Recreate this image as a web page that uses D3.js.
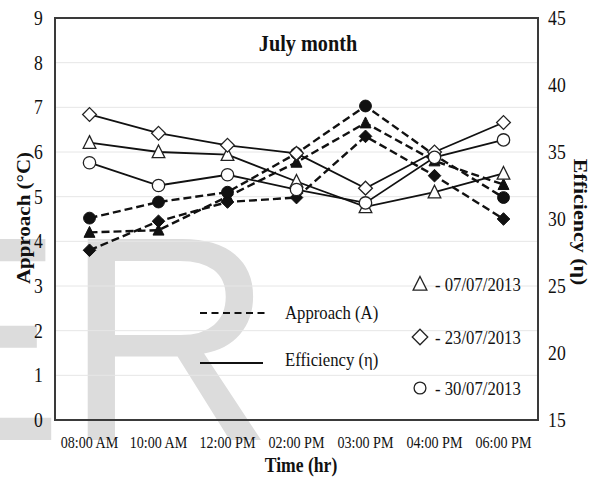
<!DOCTYPE html>
<meta charset="utf-8">
<head>
<style>
  body { margin: 0; background: #fff; }
  text { font-family: "Liberation Serif", "DejaVu Serif", serif; fill: #111; }
  .wm { font-family: "Liberation Sans", Arial, sans-serif; fill: #dcdcdc; }
  .grid line { stroke: #e6e6e6; stroke-width: 1; }
</style>
</head>
<body>
<svg id="chart"></svg>
<script src="https://d3js.org/d3.v7.min.js"></script>
<script>

// ---- data ----
var times = ["08:00 AM", "10:00 AM", "12:00 PM", "02:00 PM", "03:00 PM", "04:00 PM", "06:00 PM"];
var dates = ["07/07/2013", "23/07/2013", "30/07/2013"];

// approach (°C), left axis, dashed + filled markers
var approach0707 = [4.2, 4.25, 5.0, 5.77, 6.65, 5.8, 5.27];
var approach2307 = [3.8, 4.45, 4.88, 4.98, 6.35, 5.47, 4.5];
var approach3007 = [4.52, 4.88, 5.1, 5.97, 7.03, 5.93, 4.98];

// efficiency (%), right axis, solid + open markers
var eff0707 = [35.7, 35.0, 34.8, 32.8, 30.9, 32.0, 33.4];
var eff2307 = [37.8, 36.4, 35.5, 34.9, 32.3, 35.0, 37.2];
var eff3007 = [34.2, 32.5, 33.3, 32.2, 31.2, 34.6, 35.9];

var leftTicks = [0, 1, 2, 3, 4, 5, 6, 7, 8, 9];
var rightTicks = [15, 20, 25, 30, 35, 40, 45];

// ---- layout ----
var W = 599, H = 480;
var plot = {left: 55, right: 538, top: 18, bottom: 420};
var SX = 0.88; // the picture's text is a bit narrow

var svg = d3.select("#chart").attr("width", W).attr("height", H);

var x = d3.scaleBand().domain(times).range([plot.left, plot.right]).padding(0);
var yL = d3.scaleLinear().domain([0, 9]).range([plot.bottom, plot.top]);
var yR = d3.scaleLinear().domain([15, 45]).range([plot.bottom, plot.top]);
function cx(d, i) { return x(times[i]) + x.bandwidth() / 2; }

// watermark letters behind everything
svg.append("text").attr("class", "wm")
    .attr("x", -131).attr("y", 440)
    .style("font-size", "292px")
    .text("ER");

// gridlines
svg.append("g").attr("class", "grid")
  .selectAll("line")
  .data(leftTicks.slice(1, -1))
  .enter().append("line")
    .attr("x1", plot.left).attr("x2", plot.right)
    .attr("y1", function(d) { return yL(d); })
    .attr("y2", function(d) { return yL(d); });

// axes (no tick marks, frame drawn separately)
var gl = svg.append("g")
    .attr("transform", "translate(" + plot.left + ",0)")
    .call(d3.axisLeft(yL).tickValues(leftTicks).tickSize(0).tickPadding(14).tickFormat(d3.format("d")));
var gr = svg.append("g")
    .attr("transform", "translate(" + plot.right + ",0)")
    .call(d3.axisRight(yR).tickValues(rightTicks).tickSize(0).tickPadding(11.5));
var gb = svg.append("g")
    .attr("transform", "translate(0," + plot.bottom + ")")
    .call(d3.axisBottom(x).tickSize(0));
[gl, gr, gb].forEach(function(g) {
  g.select(".domain").remove();
  g.selectAll("text").attr("fill", "#222").style("font-family", "Liberation Serif")
    .attr("transform", "scale(" + SX + ",1)");
});
gl.selectAll("text").style("font-size", "20px");
gr.selectAll("text").style("font-size", "20px");
gb.selectAll("text").style("font-size", "16px").attr("y", 28).attr("dy", 0);

// frame
svg.append("rect")
    .attr("x", plot.left).attr("y", plot.top)
    .attr("width", plot.right - plot.left).attr("height", plot.bottom - plot.top)
    .attr("fill", "none").attr("stroke", "#3a3a3a").attr("stroke-width", 2);

// marker shapes
var diamondSq = {
  draw: function(ctx, size) {
    var r = Math.sqrt(size / 2);
    ctx.moveTo(0, -r); ctx.lineTo(r, 0); ctx.lineTo(0, r); ctx.lineTo(-r, 0); ctx.closePath();
  }
};
var triUp = {
  draw: function(ctx, size) {
    var h = Math.sqrt(size);
    ctx.moveTo(0, -h * 0.55); ctx.lineTo(h * 0.5, h * 0.45); ctx.lineTo(-h * 0.5, h * 0.45); ctx.closePath();
  }
};
var shapes = [triUp, diamondSq, d3.symbolCircle];

var approach = [approach0707, approach2307, approach3007];
var eff = [eff0707, eff2307, eff3007];

var lineL = d3.line().x(cx).y(function(d) { return yL(d); });
var lineR = d3.line().x(cx).y(function(d) { return yR(d); });

// approach: dashed lines with filled markers
approach.forEach(function(vals, k) {
  svg.append("path").datum(vals)
      .attr("d", lineL)
      .attr("fill", "none").attr("stroke", "#111")
      .attr("stroke-width", 2.4).attr("stroke-dasharray", "8,4");
});
var fillSize = [120, 80, 110];
approach.forEach(function(vals, k) {
  svg.selectAll(".fa" + k).data(vals).enter().append("path")
      .attr("transform", function(d, i) { return "translate(" + cx(d, i) + "," + yL(d) + ")"; })
      .attr("d", d3.symbol().type(shapes[k]).size(fillSize[k]))
      .attr("fill", "#111").attr("stroke", "#111").attr("stroke-width", 1);
});

// efficiency: solid lines with open markers
eff.forEach(function(vals, k) {
  svg.append("path").datum(vals)
      .attr("d", lineR)
      .attr("fill", "none").attr("stroke", "#111").attr("stroke-width", 1.8);
});
var openSize = [160, 95, 120];
eff.forEach(function(vals, k) {
  svg.selectAll(".fe" + k).data(vals).enter().append("path")
      .attr("transform", function(d, i) { return "translate(" + cx(d, i) + "," + yR(d) + ")"; })
      .attr("d", d3.symbol().type(shapes[k]).size(openSize[k]))
      .attr("fill", "#fff").attr("stroke", "#222").attr("stroke-width", 1.3);
});

// helper for narrowed text
function label(str, x0, y0, size, bold, anchor) {
  return svg.append("text")
      .attr("transform", "translate(" + x0 + "," + y0 + ") scale(" + SX + ",1)")
      .attr("text-anchor", anchor || "start")
      .style("font-size", size + "px")
      .style("font-weight", bold ? "bold" : "normal")
      .text(str);
}

// title and axis titles
label("July month", 308, 51, 23, true, "middle");
label("Time (hr)", 301, 472, 20, true, "middle");
svg.append("text")
    .attr("transform", "translate(30,218) rotate(-90) scale(1," + SX + ")")
    .attr("text-anchor", "middle")
    .style("font-size", "21px").style("font-weight", "bold")
    .text("Approach (°C)");
svg.append("text")
    .attr("transform", "translate(574,222) rotate(90) scale(1," + SX + ")")
    .attr("text-anchor", "middle")
    .style("font-size", "22px").style("font-weight", "bold")
    .text("Efficiency (η)");

// legend: line styles
svg.append("line").attr("x1", 200).attr("x2", 265).attr("y1", 313).attr("y2", 313)
    .attr("stroke", "#111").attr("stroke-width", 2).attr("stroke-dasharray", "7,4.5");
svg.append("line").attr("x1", 200).attr("x2", 263).attr("y1", 363).attr("y2", 363)
    .attr("stroke", "#111").attr("stroke-width", 2);
label("Approach (A)", 285, 319, 19, false);
label("Efficiency (η)", 285, 366, 19, false);

// legend: dates with open markers
var legY = [284, 337, 388];
var legSize = [190, 120, 110];
dates.forEach(function(dt, k) {
  svg.append("path")
      .attr("transform", "translate(420," + legY[k] + ")")
      .attr("d", d3.symbol().type(shapes[k]).size(legSize[k]))
      .attr("fill", "#fff").attr("stroke", "#222").attr("stroke-width", 1.3);
  label("- " + dt, 435, legY[k] + 7, 19, false);
});

</script>
</body>
